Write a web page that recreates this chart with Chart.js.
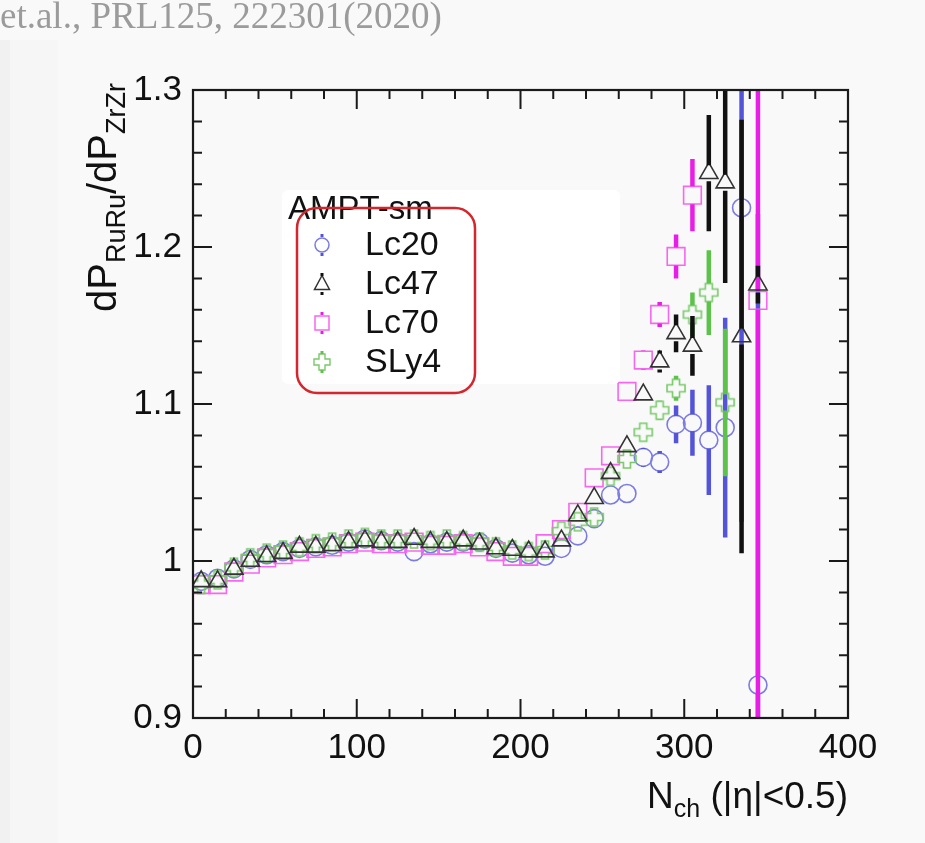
<!DOCTYPE html>
<html>
<head>
<meta charset="utf-8">
<script src="https://cdn.jsdelivr.net/npm/chart.js@4.4.1/dist/chart.umd.min.js"></script>
<style>
  html, body { margin: 0; padding: 0; background: #f9f9f9; }
  #wrap { position: relative; width: 925px; height: 843px; }
</style>
</head>
<body>
<div id="wrap"><canvas id="myChart" width="925" height="843"></canvas></div>
<script>
// bin centres of N_ch
const nch = [5, 15, 25, 35, 45, 55, 65, 75, 85, 95, 105, 115, 125, 135, 145, 155, 165, 175,
             185, 195, 205, 215, 225, 235, 245, 255, 265, 275, 285, 295, 305, 315, 325, 335, 345];

// dP_RuRu / dP_ZrZr for each model
const lc20 = [0.987, 0.989, 0.995, 1.001, 1.004, 1.006, 1.008, 1.009, 1.010, 1.012, 1.014, 1.013, 1.012, 1.006, 1.011, 1.012, 1.012, 1.012,
              1.008, 1.005, 1.004, 1.003, 1.008, 1.016, 1.027, 1.042, 1.043, 1.066, 1.063, 1.087, 1.088, 1.077, 1.085, 1.225, 0.921];
const lc47 = [0.987, 0.987, 0.995, 1.000, 1.003, 1.005, 1.009, 1.009, 1.010, 1.012, 1.013, 1.012, 1.012, 1.014, 1.012, 1.012, 1.013, 1.011,
              1.008, 1.007, 1.006, 1.006, 1.013, 1.029, 1.040, 1.056, 1.073, 1.106, 1.127, 1.145, 1.137, 1.247, 1.241, 1.143, 1.176];
const lc70 = [0.985, 0.985, 0.993, 0.998, 1.002, 1.004, 1.006, 1.008, 1.009, 1.011, 1.012, 1.011, 1.011, 1.012, 1.010, 1.010, 1.011, 1.009,
              1.006, 1.003, 1.003, 1.011, 1.020, 1.031, 1.053, 1.067, 1.108, 1.128, 1.157, 1.194, 1.233, null, null, null, 1.166];
const sly4 = [0.985, 0.988, 0.996, 1.002, 1.005, 1.007, 1.009, 1.011, 1.012, 1.014, 1.015, 1.014, 1.014, 1.014, 1.013, 1.014, 1.013, 1.012,
              1.009, 1.007, 1.006, 1.007, 1.019, 1.025, 1.028, 1.054, 1.065, 1.082, 1.096, 1.110, 1.157, 1.171, 1.101, null, null];

// statistical errors
const lc20Err = [0.002, 0.002, 0.002, 0.002, 0.002, 0.002, 0.002, 0.002, 0.002, 0.002, 0.002, 0.002, 0.002, 0.002, 0.002, 0.002, 0.002, 0.002,
                 0.002, 0.002, 0.003, 0.003, 0.003, 0.003, 0.004, 0.004, 0.005, 0.006, 0.007, 0.012, 0.021, 0.035, 0.070, 0.200, 0.300];
const lc47Err = [0.002, 0.002, 0.002, 0.002, 0.002, 0.002, 0.002, 0.002, 0.002, 0.002, 0.002, 0.002, 0.002, 0.002, 0.002, 0.002, 0.002, 0.002,
                 0.002, 0.002, 0.003, 0.003, 0.003, 0.003, 0.004, 0.004, 0.005, 0.005, 0.007, 0.012, 0.019, 0.037, 0.064, 0.138, 0.012];
const lc70Err = [0.002, 0.002, 0.002, 0.002, 0.002, 0.002, 0.002, 0.002, 0.002, 0.002, 0.002, 0.002, 0.002, 0.002, 0.002, 0.002, 0.002, 0.002,
                 0.002, 0.002, 0.003, 0.003, 0.003, 0.003, 0.004, 0.004, 0.005, 0.006, 0.008, 0.014, 0.023, null, null, null, 0.600];
const sly4Err = [0.002, 0.002, 0.002, 0.002, 0.002, 0.002, 0.002, 0.002, 0.002, 0.002, 0.002, 0.002, 0.002, 0.002, 0.002, 0.002, 0.002, 0.002,
                 0.002, 0.002, 0.003, 0.003, 0.003, 0.003, 0.003, 0.004, 0.004, 0.005, 0.006, 0.008, 0.014, 0.027, 0.047, null, null];

const xTicks = [0, 100, 200, 300, 400];
const yTicks = [0.9, 1.0, 1.1, 1.2, 1.3];

const FONT = '"Liberation Sans", Arial, Helvetica, sans-serif';

// open "plus" marker like ROOT's
function plusMarker(size, arm, color, lw) {
    const c = document.createElement('canvas');
    c.width = c.height = size + 4;
    const g = c.getContext('2d');
    const m = (size + 4) / 2, h = size / 2, a = arm / 2;
    g.beginPath();
    g.moveTo(m - a, m - h); g.lineTo(m + a, m - h); g.lineTo(m + a, m - a);
    g.lineTo(m + h, m - a); g.lineTo(m + h, m + a); g.lineTo(m + a, m + a);
    g.lineTo(m + a, m + h); g.lineTo(m - a, m + h); g.lineTo(m - a, m + a);
    g.lineTo(m - h, m + a); g.lineTo(m - h, m - a); g.lineTo(m - a, m - a);
    g.closePath();
    g.strokeStyle = color;
    g.lineWidth = lw;
    g.stroke();
    return c;
}

function points(vals, errs) {
    const out = [];
    nch.forEach((x, i) => {
        if (vals[i] !== null) out.push({ x: x, y: vals[i], err: errs[i] });
    });
    return out;
}

const series = [
    { label: 'Lc20', vals: lc20, errs: lc20Err, color: '#7b7be3', bar: '#5454d8', style: 'circle', radius: 9, order: 4, gap: 8.5 },
    { label: 'Lc47', vals: lc47, errs: lc47Err, color: '#333333', bar: '#111111', style: 'triangle', radius: 10.5, order: 1, gap: 8 },
    { label: 'Lc70', vals: lc70, errs: lc70Err, color: '#f766f0', bar: '#e81ee6', style: 'rect', radius: 12.5, order: 3, gap: 9 },
    { label: 'SLy4', vals: sly4, errs: sly4Err, color: '#79c96a', bar: '#5cc24a', style: 'plus', radius: 9, order: 2, gap: 9 }
];

const plusImg = plusMarker(18, 7, '#79c96a', 1.6);

const datasets = series.map(s => ({
    label: s.label,
    data: points(s.vals, s.errs),
    showLine: false,
    order: s.order,
    pointStyle: s.style === 'plus' ? plusImg : s.style,
    pointRadius: s.radius,
    pointBorderWidth: 1.6,
    pointBorderColor: s.color,
    pointBackgroundColor: 'rgba(0,0,0,0)',
    barColor: s.bar,
    gap: s.gap
}));

// background panels and the citation line
const bgPlugin = {
    id: 'bg',
    beforeDraw(chart) {
        const ctx = chart.ctx;
        ctx.save();
        ctx.fillStyle = '#f9f9f9';
        ctx.fillRect(0, 0, chart.width, chart.height);
        ctx.fillStyle = '#f1f1f1';
        ctx.fillRect(0, 40, 10, chart.height);
        ctx.fillStyle = '#f6f6f6';
        ctx.fillRect(10, 40, 48, chart.height);
        ctx.fillStyle = '#9b9b9b';
        ctx.font = '37px "Liberation Serif", "Times New Roman", serif';
        ctx.textBaseline = 'alphabetic';
        ctx.fillText('et.al., PRL125, 222301(2020)', 0, 28);
        ctx.restore();
    }
};

// vertical error bars, gap left where the marker sits
const errorBars = {
    id: 'errorBars',
    afterDatasetDraw(chart, args) {
        const ds = chart.data.datasets[args.index];
        const ctx = chart.ctx;
        const a = chart.chartArea;
        const xs = chart.scales.x, ys = chart.scales.y;
        ctx.save();
        ctx.beginPath();
        ctx.rect(a.left, a.top, a.right - a.left, a.bottom - a.top);
        ctx.clip();
        ctx.strokeStyle = ds.barColor;
        ctx.lineWidth = 4.5;
        ds.data.forEach(p => {
            if (!p.err) return;
            const px = xs.getPixelForValue(p.x);
            const py = ys.getPixelForValue(p.y);
            const top = ys.getPixelForValue(p.y + p.err);
            const bot = ys.getPixelForValue(p.y - p.err);
            ctx.beginPath();
            if (py - top > ds.gap) { ctx.moveTo(px, top); ctx.lineTo(px, py - ds.gap); }
            if (bot - py > ds.gap) { ctx.moveTo(px, py + ds.gap); ctx.lineTo(px, bot); }
            ctx.stroke();
        });
        ctx.restore();
    }
};

// frame, inward ticks on all sides, axis titles, legend box
const framePlugin = {
    id: 'frame',
    afterDraw(chart) {
        const ctx = chart.ctx;
        const a = chart.chartArea;
        const xs = chart.scales.x, ys = chart.scales.y;
        ctx.save();
        ctx.strokeStyle = '#1a1a1a';
        ctx.lineWidth = 2.2;
        ctx.strokeRect(a.left, a.top, a.right - a.left, a.bottom - a.top);
        ctx.lineWidth = 2;
        ctx.beginPath();
        for (let v = 0; v <= 400; v += 20) {
            const px = xs.getPixelForValue(v);
            const len = v % 100 === 0 ? 19 : 9;
            ctx.moveTo(px, a.bottom); ctx.lineTo(px, a.bottom - len);
            ctx.moveTo(px, a.top); ctx.lineTo(px, a.top + len);
        }
        for (let k = 0; k <= 20; k++) {
            const v = 0.9 + k * 0.02;
            const py = ys.getPixelForValue(v);
            const len = k % 5 === 0 ? 19 : 9;
            ctx.moveTo(a.left, py); ctx.lineTo(a.left + len, py);
            ctx.moveTo(a.right, py); ctx.lineTo(a.right - len, py);
        }
        ctx.stroke();

        // y title
        ctx.fillStyle = '#111';
        ctx.textBaseline = 'alphabetic';
        ctx.save();
        ctx.translate(116, 312);
        ctx.rotate(-Math.PI / 2);
        let x = 0;
        const big = '40px ' + FONT, small = '27px ' + FONT;
        [['dP', big, 0], ['RuRu', small, 9], ['/dP', big, 0], ['ZrZr', small, 9]].forEach(([t, f, dy]) => {
            ctx.font = f;
            ctx.fillText(t, x, dy);
            x += ctx.measureText(t).width;
        });
        ctx.restore();

        // x title, right aligned to the frame
        const parts = [['N', '37px ' + FONT, 0], ['ch', '25px ' + FONT, 9], [' (|\u03b7|<0.5)', '37px ' + FONT, 0]];
        let w = 0;
        parts.forEach(([t, f]) => { ctx.font = f; w += ctx.measureText(t).width; });
        x = a.right - w;
        parts.forEach(([t, f, dy]) => {
            ctx.font = f;
            ctx.fillText(t, x, 808 + dy);
            x += ctx.measureText(t).width;
        });

        // legend
        ctx.fillStyle = '#ffffff';
        ctx.beginPath();
        ctx.roundRect(282, 190, 338, 194, 6);
        ctx.fill();
        ctx.fillStyle = '#111';
        ctx.font = '33px ' + FONT;
        ctx.textBaseline = 'alphabetic';
        ctx.fillText('AMPT-sm', 288, 219);
        const rows = [245, 284, 323, 362];
        ctx.textBaseline = 'middle';
        series.forEach((s, i) => {
            const cy = rows[i], cx = 322;
            ctx.strokeStyle = s.color;
            ctx.lineWidth = 1.5;
            ctx.beginPath();
            if (s.style === 'circle') {
                ctx.arc(cx, cy, 7, 0, Math.PI * 2);
            } else if (s.style === 'triangle') {
                ctx.moveTo(cx, cy - 8.5); ctx.lineTo(cx + 7.5, cy + 5.5); ctx.lineTo(cx - 7.5, cy + 5.5); ctx.closePath();
            } else if (s.style === 'rect') {
                ctx.rect(cx - 7, cy - 7, 14, 14);
            } else {
                ctx.drawImage(plusMarker(16, 6, s.color, 1.4), cx - 10, cy - 10);
            }
            ctx.stroke();
            ctx.strokeStyle = s.bar;
            ctx.lineWidth = 3;
            ctx.beginPath();
            ctx.moveTo(cx, cy - 11); ctx.lineTo(cx, cy - 8);
            ctx.moveTo(cx, cy + 8); ctx.lineTo(cx, cy + 11);
            ctx.stroke();
            ctx.fillStyle = '#111';
            ctx.font = '34px ' + FONT;
            ctx.fillText(s.label, 365, cy + 1);
        });
        ctx.strokeStyle = '#d3262d';
        ctx.lineWidth = 2.5;
        ctx.beginPath();
        ctx.roundRect(297, 208, 178, 185, 20);
        ctx.stroke();
        ctx.restore();
    }
};

Chart.defaults.font.family = FONT;
Chart.defaults.color = '#111';

const ctx = document.getElementById('myChart').getContext('2d');
const myChart = new Chart(ctx, {
    type: 'scatter',
    data: { datasets: datasets },
    plugins: [bgPlugin, errorBars, framePlugin],
    options: {
        responsive: false,
        animation: false,
        events: [],
        layout: { padding: { left: 0, top: 90, right: 77, bottom: 0 } },
        plugins: { legend: { display: false }, tooltip: { enabled: false } },
        scales: {
            x: {
                type: 'linear',
                min: 0, max: 400,
                afterFit: s => { s.height = 125; },
                afterBuildTicks: s => { s.ticks = xTicks.map(v => ({ value: v })); },
                grid: { display: false, drawTicks: false },
                border: { display: false },
                ticks: { font: { size: 35 }, padding: 9, maxRotation: 0, autoSkip: false, color: '#111' }
            },
            y: {
                type: 'linear',
                min: 0.9, max: 1.3,
                afterFit: s => { s.width = 193; },
                afterBuildTicks: s => { s.ticks = yTicks.map(v => ({ value: v })); },
                grid: { display: false, drawTicks: false },
                border: { display: false },
                ticks: {
                    font: { size: 35 }, padding: 11, color: '#111',
                    callback: v => String(parseFloat(v.toFixed(1)))
                }
            }
        }
    }
});
</script>
</body>
</html>
